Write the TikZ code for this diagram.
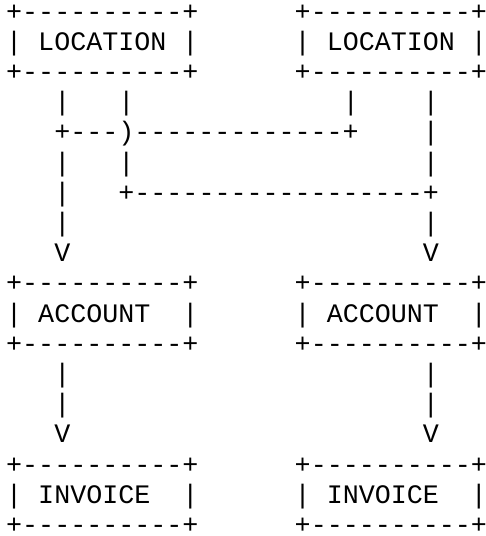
\documentclass[tikz,border=0pt]{standalone}
\usepackage{fontspec}
\newfontfamily\asciifont{Liberation Mono}
\usepackage{tikz}

\begin{document}
\begin{tikzpicture}[x=16.03pt, y=-30.2pt]
\tikzset{
	ascii node/.style = {anchor = base west, inner sep = 0, text height = 15pt, text depth = 0pt, font = \asciifont\fontsize{26.7pt}{30pt}\selectfont},
	box node/.style = {ascii node},
	wire node/.style = {ascii node}
}
\useasboundingbox (-6pt,20pt) rectangle (480pt,-516pt);

% box borders
\foreach \col in {0,18}
	\foreach \row in {0,2,9,11,15,17}
		\node (edge-\col-\row)[box node] at (\col,\row) {+----------+};

% box labels
\node (locL)[box node] at (0,1) {| LOCATION |};
\node (locR)[box node] at (18,1) {| LOCATION |};
\node (accL)[box node] at (0,10) {| ACCOUNT~ |};
\node (accR)[box node] at (18,10) {| ACCOUNT~ |};
\node (invL)[box node] at (0,16) {| INVOICE~ |};
\node (invR)[box node] at (18,16) {| INVOICE~ |};

% wires
\foreach \col/\row in {3/3,7/3,21/3,26/3,26/4,3/5,7/5,26/5,3/6,3/7,26/7,3/12,26/12,3/13,26/13}
	\node (pipe-\col-\row)[wire node] at (\col,\row) {|};
\node (cross)[wire node] at (3,4) {+---)-------------+};
\node (link)[wire node] at (7,6) {+------------------+};

% arrow heads
\foreach \col/\row in {3/8,26/8,3/14,26/14}
	\node (tip-\col-\row)[wire node] at (\col,\row) {V};
\end{tikzpicture}
\end{document}
